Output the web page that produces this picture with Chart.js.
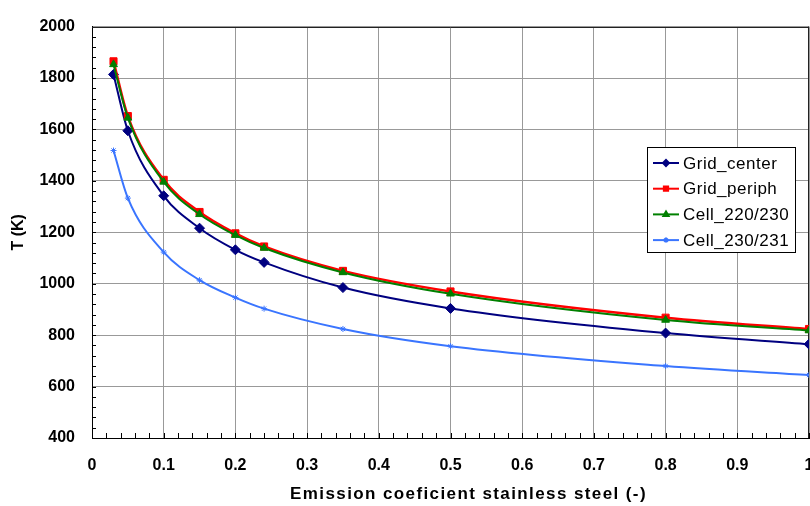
<!DOCTYPE html>
<html>
<head>
<meta charset="utf-8">
<script src="https://cdn.jsdelivr.net/npm/chart.js@4/dist/chart.umd.min.js"></script>
<style>
  html, body { margin: 0; padding: 0; background: #fff; }
  #wrap { width: 810px; height: 506px; position: relative; }
</style>
</head>
<body>
<div id="wrap"><canvas id="chart"></canvas></div>
<script>
// emission coefficient (x) and temperatures
const emission = [0.03, 0.05, 0.1, 0.15, 0.2, 0.24, 0.35, 0.5, 0.8, 1.0];
const gridCenter = [1814, 1595, 1342, 1216, 1132, 1083, 985, 904, 808, 765];
const gridPeriph = [1865, 1652, 1404, 1279, 1196, 1145, 1050, 970, 868, 824];
const cell220 = [1853, 1645, 1396, 1270, 1189, 1139, 1044, 961, 859, 818];
const cell230 = [1518, 1333, 1123, 1014, 946, 903, 824, 757, 680, 645];

const seriesNames = ['Grid_center', 'Grid_periph', 'Cell_220/230', 'Cell_230/231'];
const seriesColors = ['#000080', '#FF0000', '#008000', '#3A75FF'];
const seriesMarkers = ['rectRot', 'rect', 'triangle', 'star'];
const markerSizes = [5, 5, 4.5, 3];
const lineWidths = [2, 2.5, 2, 2];

const xTitle = 'Emission coeficient stainless steel (-)';
const yTitle = 'T (K)';

const xMin = 0, xMax = 1, xStep = 0.1, xMinor = 0.02;
const yMin = 400, yMax = 2000, yStep = 200, yMinor = 40;

const FONT = '"Liberation Sans", Arial, sans-serif';
Chart.defaults.font.family = FONT;
Chart.defaults.color = '#000';

function toPoints(ys) {
  return ys.map((y, i) => ({ x: emission[i], y: y }));
}

const allSeries = [gridCenter, gridPeriph, cell220, cell230];

const datasets = allSeries.map((ys, i) => ({
  label: seriesNames[i],
  data: toPoints(ys),
  borderColor: seriesColors[i],
  backgroundColor: seriesColors[i],
  borderWidth: lineWidths[i],
  pointStyle: seriesMarkers[i],
  pointRadius: markerSizes[i],
  pointBorderWidth: 1,
  cubicInterpolationMode: 'monotone',
  order: allSeries.length - i // later series drawn on top, like excel
}));

// minor ticks + frame drawn from the scales
const frameTicks = {
  id: 'frameTicks',
  beforeDatasetsDraw(chart) {
    const { ctx, chartArea: a, scales } = chart;
    ctx.save();
    ctx.strokeStyle = '#000';
    ctx.lineWidth = 1;
    ctx.beginPath();
    for (let v = xMin; v <= xMax + 1e-9; v += xMinor) {
      const px = Math.round(scales.x.getPixelForValue(v)) + 0.5;
      ctx.moveTo(px, a.bottom);
      ctx.lineTo(px, a.bottom - 5);
    }
    for (let v = yMin; v <= yMax + 1e-9; v += yMinor) {
      const py = Math.round(scales.y.getPixelForValue(v)) + 0.5;
      ctx.moveTo(a.left, py);
      ctx.lineTo(a.left + 4, py);
    }
    ctx.stroke();
    // top and right border
    ctx.strokeStyle = '#222';
    ctx.beginPath();
    ctx.moveTo(a.left, Math.round(a.top) + 0.5);
    ctx.lineTo(a.right, Math.round(a.top) + 0.5);
    ctx.moveTo(Math.round(a.right) - 0.5, a.top);
    ctx.lineTo(Math.round(a.right) - 0.5, a.bottom);
    ctx.stroke();
    ctx.restore();
  },
  afterDraw(chart) {
    // x title, excel spaces its letters wider than the canvas does
    const { ctx, chartArea: a } = chart;
    ctx.save();
    ctx.font = 'bold 17px ' + FONT;
    ctx.letterSpacing = '1.4px';
    ctx.fillStyle = '#000';
    ctx.textAlign = 'center';
    ctx.textBaseline = 'middle';
    ctx.fillText(xTitle, (a.left + a.right) / 2 + 18, 494);
    ctx.restore();
  }
};

// boxed legend inside the plot, right side
const boxLegend = {
  id: 'boxLegend',
  afterDraw(chart) {
    const { ctx, chartArea: a } = chart;
    const bx = a.right - 162, by = 147, bw = 148, bh = 105;
    ctx.save();
    ctx.fillStyle = '#fff';
    ctx.fillRect(bx, by, bw, bh);
    ctx.strokeStyle = '#000';
    ctx.lineWidth = 1;
    ctx.strokeRect(bx + 0.5, by + 0.5, bw, bh);
    ctx.font = '17px ' + FONT;
    ctx.letterSpacing = '0.5px';
    ctx.textBaseline = 'middle';
    chart.data.datasets.forEach((ds, i) => {
      const cy = by + 16 + i * 25.7;
      ctx.strokeStyle = ds.borderColor;
      ctx.lineWidth = 2;
      ctx.beginPath();
      ctx.moveTo(bx + 6, cy);
      ctx.lineTo(bx + 32, cy);
      ctx.stroke();
      ctx.fillStyle = ds.borderColor;
      Chart.helpers.drawPoint(ctx, {
        pointStyle: ds.pointStyle,
        radius: i === 3 ? 2.5 : 3,
        rotation: 0,
        borderWidth: 1
      }, bx + 19, cy);
      ctx.fillStyle = '#000';
      ctx.fillText(ds.label, bx + 36, cy + 1);
    });
    ctx.restore();
  }
};

new Chart(document.getElementById('chart'), {
  type: 'line',
  data: { datasets: datasets },
  options: {
    responsive: true,
    maintainAspectRatio: false,
    animation: false,
    layout: { autoPadding: false, padding: { top: 15, right: 1, left: 0, bottom: 0 } },
    plugins: {
      legend: { display: false },
      tooltip: { enabled: false }
    },
    scales: {
      x: {
        type: 'linear',
        min: xMin,
        max: xMax,
        grid: { color: '#999', lineWidth: 1, drawTicks: false },
        border: { display: true, color: '#000', width: 1 },
        ticks: {
          stepSize: xStep,
          padding: 18,
          maxRotation: 0,
          font: { size: 16, weight: 'bold' },
          color: '#000',
          callback: v => String(Math.round(v * 10) / 10)
        },
        afterFit(scale) {
          scale.height = 68;
          scale.paddingRight = 0;
          scale.paddingLeft = 0;
        }
      },
      y: {
        min: yMin,
        max: yMax,
        grid: { color: '#999', lineWidth: 1, drawTicks: false },
        border: { display: true, color: '#000', width: 1 },
        ticks: {
          stepSize: yStep,
          padding: 17,
          font: { size: 16, weight: 'bold' },
          color: '#000',
          callback: v => String(v)
        },
        title: {
          display: true,
          text: yTitle,
          font: { size: 16, weight: 'bold' },
          color: '#000',
          padding: { top: 9, bottom: 0 }
        },
        afterFit(scale) {
          scale.width = 92;
        }
      }
    }
  },
  plugins: [frameTicks, boxLegend]
});
</script>
</body>
</html>
